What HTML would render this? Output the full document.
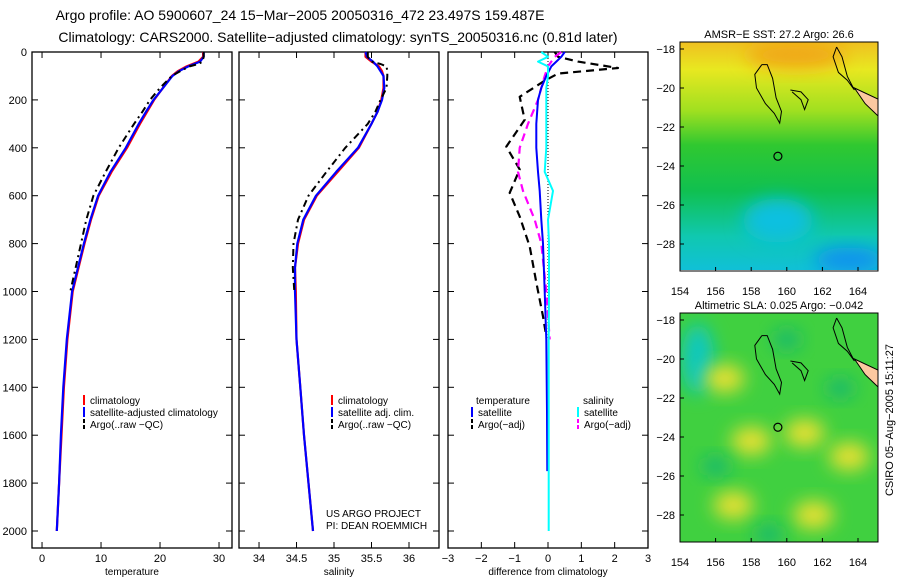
<!DOCTYPE html>
<html><head><meta charset="utf-8"><style>
body{margin:0;background:#fff;}
svg{display:block;font-family:"Liberation Sans",sans-serif;}
</style></head><body>
<svg id="c" width="900" height="580" xmlns="http://www.w3.org/2000/svg">
<defs>
<filter id="bl" x="-50%" y="-50%" width="200%" height="200%"><feGaussianBlur stdDeviation="9"/></filter>
<linearGradient id="g1" x1="0" y1="0" x2="0" y2="1">
<stop offset="0" stop-color="#f0c020"/><stop offset="0.12" stop-color="#e8e820"/><stop offset="0.3" stop-color="#a0e020"/><stop offset="0.45" stop-color="#30c830"/><stop offset="0.65" stop-color="#10c050"/><stop offset="0.85" stop-color="#10c8b0"/><stop offset="1" stop-color="#10c0d8"/>
</linearGradient>
<clipPath id="m1"><rect x="680" y="42" width="198" height="228"/></clipPath>
<clipPath id="m2"><rect x="680" y="313" width="198" height="229"/></clipPath>
</defs>
<text x="300" y="20" font-size="14" text-anchor="middle">Argo profile: AO 5900607_24 15−Mar−2005 20050316_472 23.497S 159.487E</text>
<text x="338" y="42" font-size="14" text-anchor="middle">Climatology: CARS2000. Satellite−adjusted climatology: synTS_20050316.nc (0.81d later)</text>
<g id="plots"></g>
<g id="maps"></g>
<text transform="translate(893,420) rotate(-90)" font-size="11" text-anchor="middle">CSIRO 05−Aug−2005 15:11:27</text>
</svg>
<script>
// ---- data ----
const depthsTclim=[0,20,40,60,80,100,150,200,250,300,400,500,600,700,800,900,1000,1200,1400,1600,1800,2000];
const tempClim=[27.3,27.3,26.5,24.5,23,22,20.5,19.0,17.8,16.6,14.4,11.8,9.6,8.3,7.2,6.2,5.2,4.3,3.7,3.3,2.9,2.5];
const tempSat=[27.4,27.4,26.8,24.8,23.2,22.1,20.5,18.9,17.6,16.4,14.2,11.6,9.5,8.2,7.1,6.1,5.1,4.2,3.6,3.2,2.9,2.5];
const depthsArgo=[0,20,40,50,60,80,100,150,200,250,300,400,500,600,700,800,900,1000];
const tempArgo=[27.4,27.4,27.2,26.5,25,23.4,22,20.0,18.3,17.0,15.6,13.0,10.8,8.7,7.5,6.6,5.7,4.8];
const salClim=[35.42,35.42,35.5,35.6,35.64,35.66,35.66,35.63,35.58,35.5,35.33,35.05,34.77,34.6,34.52,34.48,34.49,34.5,34.55,34.6,34.66,34.72];
const salSat=[35.42,35.44,35.52,35.58,35.62,35.66,35.67,35.64,35.58,35.5,35.32,35.03,34.76,34.59,34.51,34.48,34.48,34.5,34.55,34.6,34.66,34.72];
const salArgo=[35.45,35.45,35.5,35.62,35.7,35.71,35.71,35.7,35.62,35.55,35.45,35.15,34.9,34.66,34.52,34.46,34.45,34.47];
const depthsDiff=[0,20,40,67,90,120,187,283,395,490,588,687,812,962,1104,1187];
const diffTArgo=[0.2,0.3,0.9,2.1,0.3,-0.1,-0.85,-0.7,-1.25,-0.85,-1.15,-0.85,-0.55,-0.35,-0.15,-0.05];
const depthsDiffS=[0,20,40,60,100,150,200,300,400,500,580,700,800,1000,1200,1500,1750,2000];
const diffTSat=[0.5,0.4,0.25,0.1,-0.05,-0.2,-0.3,-0.35,-0.35,-0.3,-0.25,-0.2,-0.15,-0.1,-0.05,-0.03,-0.02,null];
const diffSSat=[-0.2,0.0,-0.3,0.0,0.0,-0.05,-0.05,-0.05,-0.05,-0.1,0.15,0.0,0.03,0.03,0.02,0.02,0.02,0.02];
const diffSArgo=[0.4,0.2,0.1,0.0,-0.1,-0.2,-0.3,-0.6,-0.85,-0.9,-0.75,-0.4,-0.2,-0.05,0.05,null,null,null];
const depthTicks=[0,200,400,600,800,1000,1200,1400,1600,1800,2000];

const NS='http://www.w3.org/2000/svg';
function el(tag,attrs,parent,txt){const e=document.createElementNS(NS,tag);for(const k in attrs)e.setAttribute(k,attrs[k]);if(txt!==undefined)e.textContent=txt;parent.appendChild(e);return e;}
const G=document.getElementById('plots');
const yD=d=>52+d*0.2395;
const panels=[
 {x0:32,x1:232,min:-1.7,max:32.2,ticks:[0,10,20,30],lab:'temperature',name:'temperature'},
 {x0:239,x1:439,min:33.733,max:36.4,ticks:[34,34.5,35,35.5,36],lab:'salinity',name:'salinity'},
 {x0:448,x1:648,min:-3,max:3,ticks:[-3,-2,-1,0,1,2,3],lab:'difference from climatology',name:'difference'}
];
panels.forEach((p,i)=>{
 p.sx=v=>p.x0+(v-p.min)/(p.max-p.min)*(p.x1-p.x0);
 const g=el('g',{},G);
 
 
 el('rect',{x:p.x0,y:52,width:p.x1-p.x0,height:496,fill:'none',stroke:'#000','stroke-width':1.3},g);
 depthTicks.forEach(d=>{
  el('line',{x1:p.x0,x2:p.x0+6,y1:yD(d),y2:yD(d),stroke:'#000'},g);
  el('line',{x1:p.x1,x2:p.x1-6,y1:yD(d),y2:yD(d),stroke:'#000'},g);
  if(i===0){const t=el('text',{x:27,y:yD(d)+4,'font-size':11,'text-anchor':'end'},g,String(d));
   }
 });
 p.ticks.forEach(v=>{
  const x=p.sx(v);
  el('line',{x1:x,x2:x,y1:548,y2:542,stroke:'#000'},g);
  el('line',{x1:x,x2:x,y1:52,y2:58,stroke:'#000'},g);
  const t=el('text',{x:x,y:562,'font-size':11,'text-anchor':'middle'},g,String(v).replace('-','−'));
  
 });
 const t=el('text',{x:(p.x0+p.x1)/2,y:575,'font-size':10,'text-anchor':'middle'},g,p.lab);
 
});
function line(p,depths,vals,color,w,dash,name){
 let d='',pen=false;
 depths.forEach((z,k)=>{const v=vals[k];if(v===null||v===undefined){pen=false;return;}
  d+=(pen?'L':'M')+p.sx(v).toFixed(1)+','+yD(z).toFixed(1);pen=true;});
 const e=el('path',{d:d,fill:'none',stroke:color,'stroke-width':w,'stroke-dasharray':dash||'none','stroke-linejoin':'round'},G);
 
 
}
const [P1,P2,P3]=panels;
line(P1,depthsTclim,tempClim,'#f00',2.2,null,'temp-climatology-line');
line(P1,depthsTclim,tempSat,'#00f',2.2,null,'temp-satellite-line');
line(P1,depthsArgo,tempArgo,'#000',2,'7,4,2,4','temp-argo-line');
line(P2,depthsTclim,salClim,'#f00',2.2,null,'sal-climatology-line');
line(P2,depthsTclim,salSat,'#00f',2.2,null,'sal-satellite-line');
line(P2,depthsArgo,salArgo,'#000',2,'7,4,2,4','sal-argo-line');
const z=el('line',{x1:P3.sx(0),x2:P3.sx(0),y1:52,y2:yD(1200),stroke:'#000','stroke-dasharray':'1,2'},G);

line(P3,depthsDiff,diffTArgo,'#000',2.2,'8,5','diff-temp-argo-line');
line(P3,depthsDiffS,diffSArgo,'#f0f',2.2,'8,5','diff-sal-argo-line');
line(P3,depthsDiffS,diffTSat,'#00f',2,null,'diff-temp-satellite-line');
line(P3,depthsDiffS,diffSSat,'#0ff',2,null,'diff-sal-satellite-line');
function leg(x,y,color,dash,text,name){
 const g=el('g',{},G);
 
 
 el('line',{x1:x,x2:x,y1:y-9,y2:y+1,stroke:color,'stroke-width':2,'stroke-dasharray':dash||'none'},g);
 el('text',{x:x+6,y:y,'font-size':10},g,text);
}
leg(84,404,'#f00',null,'climatology','legend-t-climatology');
leg(84,416,'#00f',null,'satellite-adjusted climatology','legend-t-satellite');
leg(84,428,'#000','4,2','Argo(..raw −QC)','legend-t-argo');
leg(332,404,'#f00',null,'climatology','legend-s-climatology');
leg(332,416,'#00f',null,'satellite adj. clim.','legend-s-satellite');
leg(332,428,'#000','4,2','Argo(..raw −QC)','legend-s-argo');
el('text',{x:476,y:404,'font-size':10},G,'temperature');
leg(472,416,'#00f',null,'satellite','legend-d-t-satellite');
leg(472,428,'#000','4,2','Argo(−adj)','legend-d-t-argo');
el('text',{x:583,y:404,'font-size':10},G,'salinity');
leg(578,416,'#0ff',null,'satellite','legend-d-s-satellite');
leg(578,428,'#f0f','4,2','Argo(−adj)','legend-d-s-argo');
el('text',{x:326,y:517,'font-size':10},G,'US ARGO PROJECT');
el('text',{x:326,y:529,'font-size':10},G,'PI: DEAN ROEMMICH');

// ---- maps ----
const M=document.getElementById('maps');
const lonTicks=[154,156,158,160,162,164];
const latTicks=[-18,-20,-22,-24,-26,-28];
const coast=[[158.6,-18.8],[158.2,-19.3],[158.3,-20],[158.8,-20.8],[159.3,-21.3],[159.6,-21.8],[159.7,-21.2],[159.4,-20.5],[159.2,-19.5],[158.9,-18.8],[158.6,-18.8]];
const coast2=[[160.2,-20.1],[160.8,-20.2],[161.2,-20.6],[161.0,-21.1],[160.8,-20.6],[160.3,-20.2]];
const coast3=[[162.8,-17.9],[162.6,-18.4],[162.9,-19.2],[163.4,-19.6],[163.8,-20.1],[163.4,-19.4],[163.1,-18.4],[162.8,-17.9]];
function map(y0,clip,title,kind,name){
 const g=el('g',{},M);
 
 
 const sx=l=>680+(l-154)*17.8, sy=a=>y0+7+(-18-a)*19.5;
 const inner=el('g',{'clip-path':'url(#'+clip+')'},g);
 if(kind===1){
  el('rect',{x:680,y:y0,width:198,height:229,fill:'url(#g1)'},inner);
  el('ellipse',{cx:sx(160.5),cy:sy(-18.3),rx:50,ry:14,fill:'#f0a818',filter:'url(#bl)'},inner);
  el('ellipse',{cx:sx(159.5),cy:sy(-26.8),rx:35,ry:22,fill:'#10c0e0',filter:'url(#bl)'},inner);
  el('ellipse',{cx:sx(163.5),cy:sy(-28.8),rx:35,ry:12,fill:'#1090f0',filter:'url(#bl)'},inner);
  el('rect',{x:680,y:sy(-29.5),width:198,height:3,fill:'#fff'},inner);
 } else {
  el('rect',{x:680,y:y0,width:198,height:229,fill:'#40d040'},inner);
  el('ellipse',{cx:sx(155),cy:sy(-20),rx:16,ry:35,fill:'#10c8c0',filter:'url(#bl)'},inner);
  [[156.5,-21],[161,-23.8],[157,-27.5],[161.5,-28],[163.5,-25],[158,-24.2]].forEach(c=>
   el('ellipse',{cx:sx(c[0]),cy:sy(c[1]),rx:20,ry:14,fill:'#e8e030',filter:'url(#bl)'},inner));
  [[160,-19],[163,-21.5],[156,-25.5],[159,-29]].forEach(c=>
   el('ellipse',{cx:sx(c[0]),cy:sy(c[1]),rx:14,ry:10,fill:'#18b870',filter:'url(#bl)'},inner));
 }
 [coast,coast2,coast3].forEach(c=>el('path',{d:'M'+c.map(p=>sx(p[0]).toFixed(1)+','+sy(p[1]).toFixed(1)).join('L'),fill:'none',stroke:'#000','stroke-width':1},inner));
 el('path',{d:`M${sx(163.8)},${sy(-20)}L${sx(165.2)},${sy(-20.6)}L${sx(165.2)},${sy(-21.5)}L${sx(164.4)},${sy(-20.8)}Z`,fill:'#fcc8a0',stroke:'#000'},inner);
 el('circle',{cx:sx(159.5),cy:sy(-23.5),r:4,fill:'none',stroke:'#000','stroke-width':1.2},inner);
 el('rect',{x:680,y:y0,width:198,height:229,fill:'none',stroke:'#000'},g);
 el('text',{x:779,y:y0-4,'font-size':11,'text-anchor':'middle'},g,title);
 lonTicks.forEach(l=>{el('line',{x1:sx(l),x2:sx(l),y1:y0+229,y2:y0+225,stroke:'#000'},g);
  el('text',{x:sx(l),y:y0+253,'font-size':11,'text-anchor':'middle'},g,String(l));});
 latTicks.forEach(a=>{el('line',{x1:680,x2:684,y1:sy(a),y2:sy(a),stroke:'#000'},g);
  el('text',{x:675,y:sy(a)+4,'font-size':11,'text-anchor':'end'},g,String(a).replace('-','−'));});
}
map(42,'m1','AMSR−E SST: 27.2 Argo: 26.6',1,'sst-map');
map(313,'m2','Altimetric SLA: 0.025 Argo: −0.042',2,'sla-map');
</script>
</body></html>
